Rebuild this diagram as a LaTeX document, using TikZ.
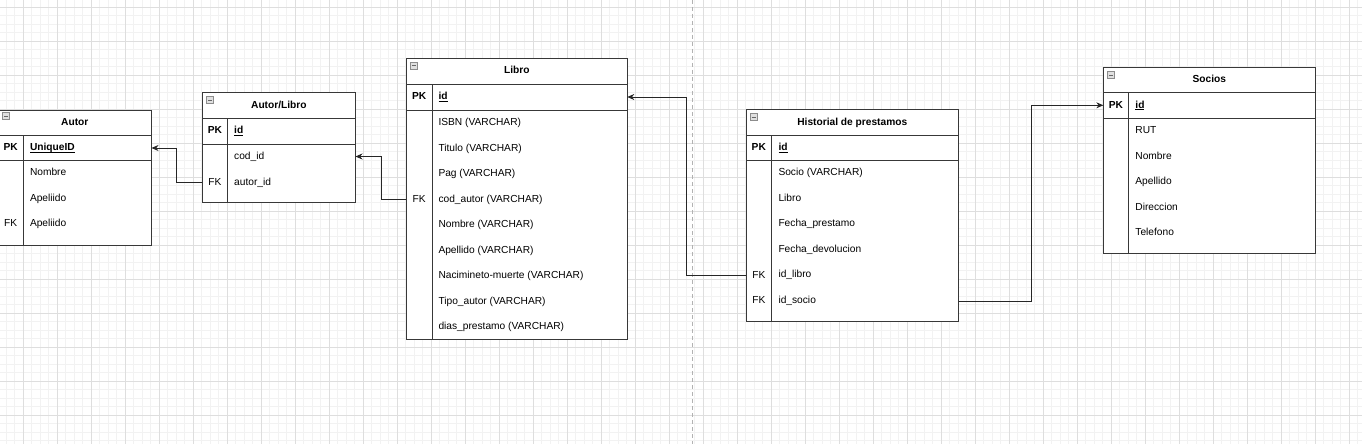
\documentclass[tikz,border=0pt]{standalone}
\usepackage{fontspec}
\setmainfont{Liberation Sans}
\usetikzlibrary{positioning, calc, arrows.meta}

\newsavebox{\keybox}
\newcommand{\keyul}[1]{\sbox{\keybox}{#1}\rlap{\rule[-1.6pt]{\wd\keybox}{0.7pt}}\usebox{\keybox}}

\tikzset{
  minorgrid/.style={draw=black!5, line width=0.7pt},
  majorgrid/.style={draw=black!13, line width=0.8pt},
  pagebreak/.style={draw=black!30, line width=0.8pt, dash pattern=on 4pt off 3pt},
  tbl/.style={draw=black!78, line width=0.8pt},
  hdr/.style={inner sep=0pt, text height=7.4pt, text depth=1.6pt, font=\bfseries\fontsize{10.2}{12}\selectfont},
  keycol/.style={inner sep=0pt, text height=7.4pt, text depth=1.6pt, font=\fontsize{10.2}{12}\selectfont},
  fld/.style={inner sep=0pt, text height=7.4pt, text depth=1.6pt, anchor=west, font=\fontsize{10.2}{12}\selectfont},
  rel/.style={draw=black!85, line width=0.75pt, -{Stealth[length=7pt, width=6pt]}},
  minbox/.pic={
    \draw[draw=black!45, fill=black!12, line width=0.5pt] (0,0) rectangle (7,7);
    \draw[black!60, line width=0.6pt] (1.5,3.5) -- (5.5,3.5);
  }
}

\begin{document}
\begin{tikzpicture}[x=1pt, y=-1pt]
      \useasboundingbox (0,0) rectangle (1362,444);
      \fill[white] (0,0) rectangle (1362,444);
      \foreach \i in {0,...,161} {\draw[minorgrid] ({-10.7+8.5*\i},0) -- ++(0,444);}
      \foreach \i in {0,...,53} {\draw[minorgrid] (0,{-1.2+8.5*\i}) -- ++(1362,0);}
      \foreach \i in {0,...,39} {\draw[majorgrid] ({23.3+34*\i},0) -- ++(0,444);}
      \foreach \i in {0,...,12} {\draw[majorgrid] (0,{7.3+34*\i}) -- ++(1362,0);}
      \draw[pagebreak] (692.7,0) -- (692.7,444);

      % Autor
      \draw[tbl, fill=white] (-2,110) rectangle (151.5,245);
      \draw[tbl] (-2,135) -- (151.5,135) (-2,160) -- (151.5,160) (23.3,135) -- (23.3,245);
      \pic at (2.5,112.5) {minbox};
      \node[hdr] (autor) at (74.8,122.5) {Autor};
      \node[keycol, font=\bfseries\fontsize{10.2}{12}\selectfont] (autor-pkkey) at (10.7,148) {PK};
      \node[fld, font=\bfseries\fontsize{10.2}{12}\selectfont] (autor-id) at (29.8,148) {\keyul{UniqueID}};
      \foreach \fname [count=\i] in {Nombre, Apeliido, Apeliido}
        \node[fld] (autor-\i) at (29.8,{160+25.5*\i-12.75}) {\fname};
      \node[keycol] (autor-fk) at (10.7,223.8) {FK};

      % Autor/Libro
      \draw[tbl, fill=white] (202.3,92.5) rectangle (355.5,202.7);
      \draw[tbl] (202.3,118.3) -- (355.5,118.3) (202.3,144) -- (355.5,144) (227.7,118.3) -- (227.7,202.7);
      \pic at (206.3,96.5) {minbox};
      \node[hdr] (autlib) at (278.9,105.2) {Autor/Libro};
      \node[keycol, font=\bfseries\fontsize{10.2}{12}\selectfont] (autlib-pkkey) at (215,131) {PK};
      \node[fld, font=\bfseries\fontsize{10.2}{12}\selectfont] (autlib-id) at (234,131) {\keyul{id}};
      \foreach \fname [count=\i] in {cod\_id, autor\_id}
        \node[fld] (autlib-\i) at (234,{144+25.5*\i-12.75}) {\fname};
      \node[keycol] (autlib-fk) at (215,182.2) {FK};

      % Libro
      \draw[tbl, fill=white] (406.3,58) rectangle (627.3,339.5);
      \draw[tbl] (406.3,84) -- (627.3,84) (406.3,110) -- (627.3,110) (432,84) -- (432,339.5);
      \pic at (410.3,62.3) {minbox};
      \node[hdr] (libro) at (516.8,71) {Libro};
      \node[keycol, font=\bfseries\fontsize{10.2}{12}\selectfont] (libro-pkkey) at (419.2,97) {PK};
      \node[fld, font=\bfseries\fontsize{10.2}{12}\selectfont] (libro-id) at (438.3,97) {\keyul{id}};
      \foreach \fname [count=\i] in {ISBN (VARCHAR), Titulo (VARCHAR), Pag (VARCHAR), cod\_autor (VARCHAR), Nombre (VARCHAR), Apellido (VARCHAR), Nacimineto-muerte (VARCHAR), Tipo\_autor (VARCHAR), dias\_prestamo (VARCHAR)}
        \node[fld] (libro-\i) at (438.3,{110+25.5*\i-12.75}) {\fname};
      \node[keycol] (libro-fk) at (419.2,199.2) {FK};

      % Historial de prestamos
      \draw[tbl, fill=white] (746,109.3) rectangle (958.7,321.7);
      \draw[tbl] (746,135) -- (958.7,135) (746,160.3) -- (958.7,160.3) (771.7,135) -- (771.7,321.7);
      \pic at (750,113.3) {minbox};
      \node[hdr] (hist) at (852.3,122.2) {Historial de prestamos};
      \node[keycol, font=\bfseries\fontsize{10.2}{12}\selectfont] (hist-pkkey) at (758.8,147.7) {PK};
      \node[fld, font=\bfseries\fontsize{10.2}{12}\selectfont] (hist-id) at (778.3,147.7) {\keyul{id}};
      \foreach \fname [count=\i] in {Socio (VARCHAR), Libro, Fecha\_prestamo, Fecha\_devolucion, id\_libro, id\_socio}
        \node[fld] (hist-\i) at (778.3,{160.3+25.5*\i-12.75}) {\fname};
      \node[keycol] (hist-fk1) at (758.8,275.5) {FK};
      \node[keycol] (hist-fk2) at (758.8,301) {FK};

      % Socios
      \draw[tbl, fill=white] (1103.3,67.3) rectangle (1315.5,253.3);
      \draw[tbl] (1103.3,92.7) -- (1315.5,92.7) (1103.3,118.3) -- (1315.5,118.3) (1128.7,92.7) -- (1128.7,253.3);
      \pic at (1107.3,71.3) {minbox};
      \node[hdr] (socios) at (1209.4,80) {Socios};
      \node[keycol, font=\bfseries\fontsize{10.2}{12}\selectfont] (socios-pkkey) at (1116,105.5) {PK};
      \node[fld, font=\bfseries\fontsize{10.2}{12}\selectfont] (socios-id) at (1135.2,105.5) {\keyul{id}};
      \foreach \fname [count=\i] in {RUT, Nombre, Apellido, Direccion, Telefono}
        \node[fld] (socios-\i) at (1135.2,{118.3+25.5*\i-12.75}) {\fname};

      \coordinate (autor-pk) at (151.5,148);
      \coordinate (autlib-out) at (202.3,182.2);
      \coordinate (autlib-in) at (355.5,156.5);
      \coordinate (libro-out) at (406.3,199.2);
      \coordinate (libro-pk) at (627.3,97);
      \coordinate (hist-out1) at (746,275.5);
      \coordinate (hist-out2) at (958.7,301);
      \coordinate (socios-pk) at (1103.3,105.3);

      \draw[rel] (autlib-out) -- ++(-26,0) |- (autor-pk);
      \draw[rel] (libro-out) -- ++(-25.3,0) |- (autlib-in);
      \draw[rel] (hist-out1) -- ++(-59.3,0) |- (libro-pk);
      \draw[rel] (hist-out2) -- ++(72.3,0) |- (socios-pk);
    \end{tikzpicture}
\end{document}
